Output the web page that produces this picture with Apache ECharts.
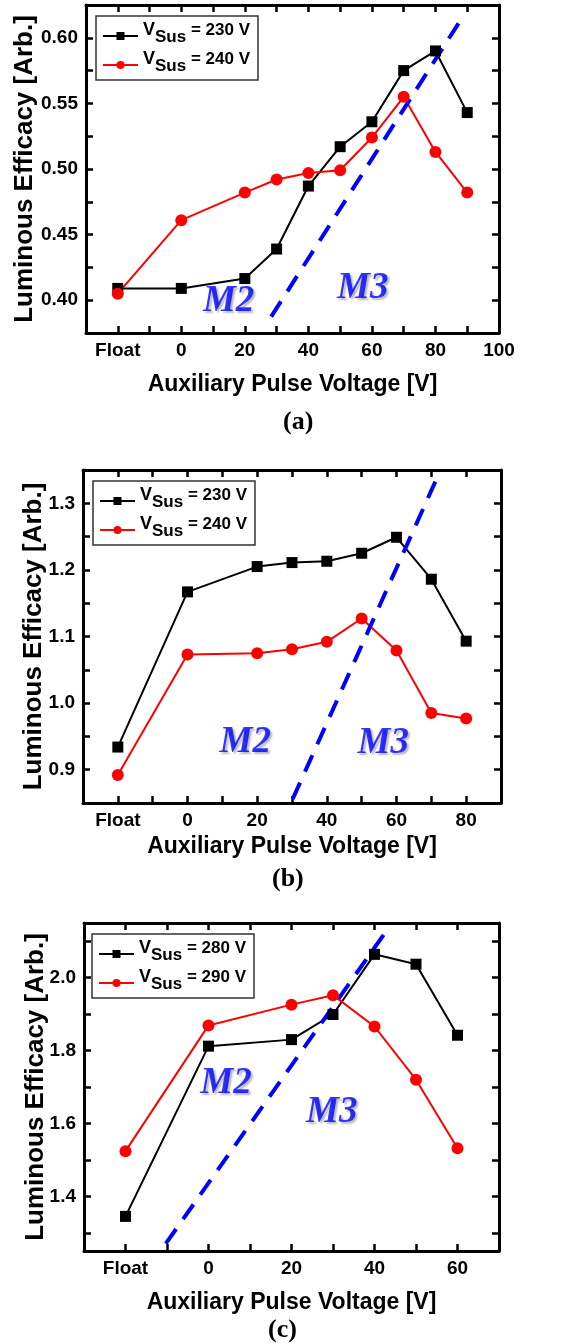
<!DOCTYPE html>
<html>
<head>
<meta charset="utf-8">
<script src="https://cdn.jsdelivr.net/npm/echarts@6/dist/echarts.min.js"></script>
<style>
    html, body { margin: 0; padding: 0; background: #fff; }
    #chart { width: 564px; height: 1343px; }
</style>
</head>
<body>
<div id="chart"></div>
<script>
    // "Float" is drawn at x = -20
    var FLOAT = -20;

    // panel (a)
    var xA = [FLOAT, 0, 20, 30, 40, 50, 60, 70, 80, 90];
    var a230 = [0.409, 0.409, 0.4165, 0.439, 0.487, 0.517, 0.536, 0.575, 0.590, 0.543];
    var a240 = [0.405, 0.461, 0.482, 0.492, 0.497, 0.499, 0.524, 0.555, 0.513, 0.482];
    var lineA = [[28.3, 0.3875], [89.1, 0.618]];
    var xTicksA = [-20, -10, 0, 10, 20, 30, 40, 50, 60, 70, 80, 90];
    var xLabelsA = [-20, 0, 20, 40, 60, 80, 100];
    var yTicksA = [0.40, 0.425, 0.45, 0.475, 0.50, 0.525, 0.55, 0.575, 0.60];
    var yLabelsA = [0.40, 0.45, 0.50, 0.55, 0.60];

    // panel (b)
    var xB = [FLOAT, 0, 20, 30, 40, 50, 60, 70, 80];
    var b230 = [0.934, 1.167, 1.205, 1.211, 1.213, 1.225, 1.249, 1.186, 1.093];
    var b240 = [0.892, 1.073, 1.075, 1.081, 1.092, 1.127, 1.079, 0.985, 0.977];
    var lineB = [[30.2, 0.856], [71.7, 1.339]];
    var xTicksB = [-20, -10, 0, 10, 20, 30, 40, 50, 60, 70, 80];
    var xLabelsB = [-20, 0, 20, 40, 60, 80];
    var yTicksB = [0.9, 0.95, 1.0, 1.05, 1.1, 1.15, 1.2, 1.25, 1.3];
    var yLabelsB = [0.9, 1.0, 1.1, 1.2, 1.3];

    // panel (c)
    var xC = [FLOAT, 0, 20, 30, 40, 50, 60];
    var c280 = [1.345, 1.812, 1.830, 1.899, 2.064, 2.037, 1.842];
    var c290 = [1.524, 1.869, 1.926, 1.952, 1.866, 1.720, 1.532];
    var lineC = [[-10.3, 1.270], [43.7, 2.142]];
    var xTicksC = [-20, -10, 0, 10, 20, 30, 40, 50, 60];
    var xLabelsC = [-20, 0, 20, 40, 60];
    var yTicksC = [1.3, 1.4, 1.5, 1.6, 1.7, 1.8, 1.9, 2.0, 2.1];
    var yLabelsC = [1.4, 1.6, 1.8, 2.0];

    // region labels M2 / M3
    var regionA = [['M2', 14.9, 0.399], ['M3', 57.1, 0.4086]];
    var regionB = [['M2', 16.6, 0.9416], ['M3', 56.2, 0.94]];
    var regionC = [['M2', 4.2, 1.71], ['M3', 29.7, 1.631]];

    var SANS = '"Liberation Sans", Arial, sans-serif';
    var SERIF = '"Liberation Serif", "Times New Roman", serif';

    function zip(xs, ys) {
        var out = [];
        for (var i = 0; i < xs.length; i++) {
            out.push([xs[i], ys[i]]);
        }
        return out;
    }

    var panels = [
        {
            grid: {left: 86, top: 5, width: 413, height: 328},
            xMin: -30, xMax: 100, yMin: 0.375, yMax: 0.625, yDec: 2,
            xTicks: xTicksA, xLabels: xLabelsA, yTicks: yTicksA, yLabels: yLabelsA,
            x: xA, s1: a230, s2: a240, v1: '230', v2: '240', dash: lineA, regions: regionA,
            legend: {left: 96, top: 16}, xGap: 40, yGap: 48, tag: 'a'
        },
        {
            grid: {left: 83, top: 470, width: 418, height: 333},
            xMin: -30, xMax: 90, yMin: 0.85, yMax: 1.35, yDec: 1,
            xTicks: xTicksB, xLabels: xLabelsB, yTicks: yTicksB, yLabels: yLabelsB,
            x: xB, s1: b230, s2: b240, v1: '230', v2: '240', dash: lineB, regions: regionB,
            legend: {left: 93, top: 481}, xGap: 32, yGap: 36, tag: 'b'
        },
        {
            grid: {left: 84, top: 923, width: 415, height: 328},
            xMin: -30, xMax: 70, yMin: 1.25, yMax: 2.15, yDec: 1,
            xTicks: xTicksC, xLabels: xLabelsC, yTicks: yTicksC, yLabels: yLabelsC,
            x: xC, s1: c280, s2: c290, v1: '280', v2: '290', dash: lineC, regions: regionC,
            legend: {left: 92, top: 934}, xGap: 40, yGap: 35, tag: 'c'
        }
    ];

    var option = {
        animation: false,
        backgroundColor: '#fff',
        grid: [], xAxis: [], yAxis: [], legend: [], series: [],
        graphic: [
            {type: 'text', left: 298 - 15, top: 409, style: {text: '(a)', font: 'bold 26px ' + SERIF, fill: '#000'}},
            {type: 'text', left: 287 - 15, top: 866, style: {text: '(b)', font: 'bold 26px ' + SERIF, fill: '#000'}},
            {type: 'text', left: 283 - 15, top: 1317, style: {text: '(c)', font: 'bold 26px ' + SERIF, fill: '#000'}}
        ]
    };

    var axisLine = {show: true, onZero: false, lineStyle: {color: '#000', width: 3}};
    var tickStyle = {color: '#000', width: 2.5};

    panels.forEach(function (p, i) {
        option.grid.push(p.grid);

        // bottom + top x axes
        option.xAxis.push({
            type: 'value', gridIndex: i, min: p.xMin, max: p.xMax, position: 'bottom',
            axisLine: axisLine, splitLine: {show: false},
            axisTick: {show: true, inside: true, length: 7, lineStyle: tickStyle, customValues: p.xTicks},
            axisLabel: {
                customValues: p.xLabels, margin: 8, color: '#000',
                fontFamily: SANS, fontWeight: 'bold', fontSize: 19,
                formatter: function (v) { return v === FLOAT ? 'Float' : String(v); }
            },
            name: 'Auxiliary Pulse Voltage [V]', nameLocation: 'middle', nameGap: p.xGap,
            nameTextStyle: {color: '#000', fontFamily: SANS, fontWeight: 'bold', fontSize: 23}
        });
        option.xAxis.push({
            type: 'value', gridIndex: i, min: p.xMin, max: p.xMax, position: 'top',
            axisLine: axisLine, splitLine: {show: false}, axisLabel: {show: false},
            axisTick: {show: true, inside: true, length: 7, lineStyle: tickStyle, customValues: p.xTicks}
        });

        // left + right y axes
        option.yAxis.push({
            type: 'value', gridIndex: i, min: p.yMin, max: p.yMax, position: 'left',
            axisLine: axisLine, splitLine: {show: false},
            axisTick: {show: true, inside: true, length: 7, lineStyle: tickStyle, customValues: p.yTicks},
            axisLabel: {
                customValues: p.yLabels, margin: 8, color: '#000',
                fontFamily: SANS, fontWeight: 'bold', fontSize: 19,
                formatter: function (v) { return v.toFixed(p.yDec); }
            },
            name: 'Luminous Efficacy [Arb.]', nameLocation: 'middle', nameGap: p.yGap,
            nameMoveOverlap: false,
            nameTextStyle: {color: '#000', fontFamily: SANS, fontWeight: 'bold', fontSize: 26}
        });
        option.yAxis.push({
            type: 'value', gridIndex: i, min: p.yMin, max: p.yMax, position: 'right',
            axisLine: axisLine, splitLine: {show: false}, axisLabel: {show: false},
            axisTick: {show: true, inside: true, length: 7, lineStyle: tickStyle, customValues: p.yTicks}
        });

        var xi = i * 2, yi = i * 2;
        var n1 = p.tag + p.v1, n2 = p.tag + p.v2;
        var volts = {};
        volts[n1] = p.v1;
        volts[n2] = p.v2;

        option.legend.push({
            left: p.legend.left, top: p.legend.top, orient: 'vertical',
            data: [n1, n2], selectedMode: false,
            borderColor: '#333', borderWidth: 1.5, borderRadius: 0,
            padding: [5, 8, 5, 6], itemGap: 4, itemWidth: 35, itemHeight: 10,
            textStyle: {
                color: '#000', fontFamily: SANS, fontWeight: 'bold', fontSize: 17,
                rich: {
                    v: {fontFamily: SANS, fontWeight: 'bold', fontSize: 18, color: '#000',
                        verticalAlign: 'bottom', lineHeight: 20, padding: [0, 0, 7, 0]},
                    s: {fontFamily: SANS, fontWeight: 'bold', fontSize: 17, color: '#000',
                        verticalAlign: 'bottom', lineHeight: 20},
                    t: {fontFamily: SANS, fontWeight: 'bold', fontSize: 17, color: '#000',
                        verticalAlign: 'bottom', lineHeight: 20, padding: [0, 0, 7, 0]}
                }
            },
            formatter: function (name) {
                return '{v|V}{s|Sus}{t| = ' + volts[name] + ' V}';
            }
        });

        option.series.push({
            name: n1, type: 'line', xAxisIndex: xi, yAxisIndex: yi,
            data: zip(p.x, p.s1), symbol: 'rect', symbolSize: 11,
            lineStyle: {color: '#000', width: 2}, itemStyle: {color: '#000'}
        });
        option.series.push({
            name: n2, type: 'line', xAxisIndex: xi, yAxisIndex: yi,
            data: zip(p.x, p.s2), symbol: 'circle', symbolSize: 12,
            lineStyle: {color: '#ff0000', width: 2}, itemStyle: {color: '#ff0000'}
        });
        // M2 / M3 boundary
        option.series.push({
            type: 'line', xAxisIndex: xi, yAxisIndex: yi, silent: true,
            data: p.dash, symbol: 'none',
            lineStyle: {color: '#0000ff', width: 4, type: [18, 12], cap: 'butt'}
        });
        option.series.push({
            type: 'scatter', xAxisIndex: xi, yAxisIndex: yi, silent: true,
            symbolSize: 0,
            data: p.regions.map(function (r) { return {name: r[0], value: [r[1], r[2]]}; }),
            label: {
                show: true, position: 'inside', formatter: '{b}',
                color: '#0000ff', fontFamily: SERIF, fontWeight: 'bold', fontStyle: 'italic', fontSize: 37,
                textShadowColor: 'rgba(90,90,90,0.55)', textShadowOffsetX: 2, textShadowOffsetY: 2, textShadowBlur: 2
            }
        });
    });

    var chart = echarts.init(document.getElementById('chart'));
    chart.setOption(option);
</script>
</body>
</html>
